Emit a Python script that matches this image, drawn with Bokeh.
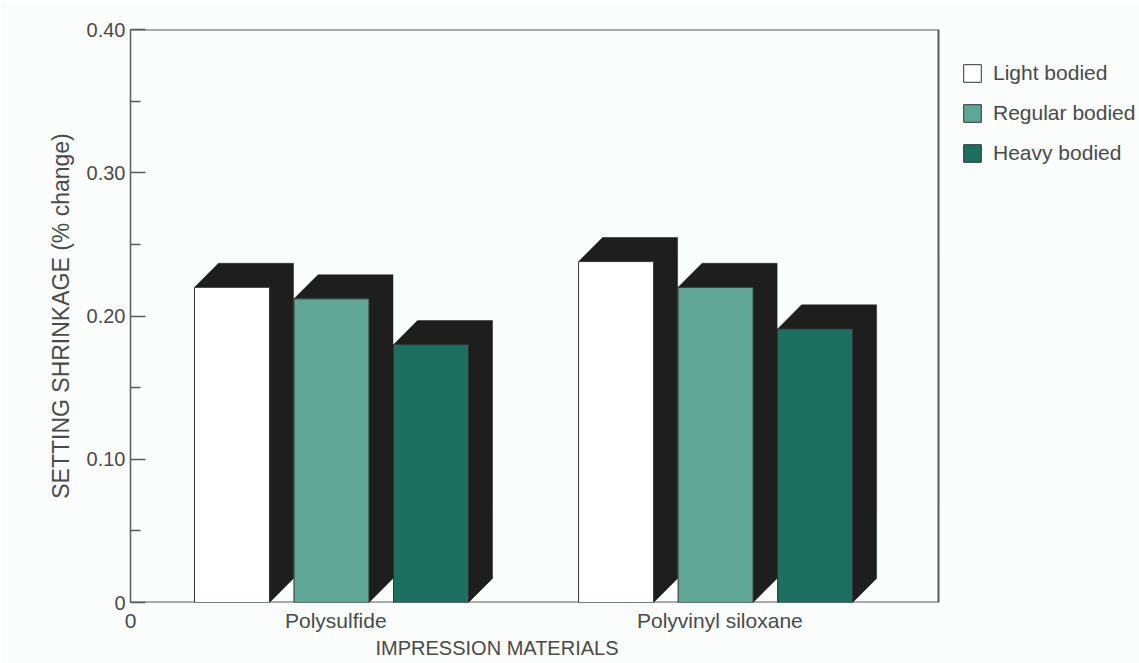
from bokeh.plotting import figure
from bokeh.models import Range1d, FixedTicker, Legend, LegendItem, Title, ColumnDataSource
from bokeh.embed import file_html
from bokeh.resources import INLINE

# ---- data ----
materials = ["Polysulfide", "Polyvinyl siloxane"]
series = ["Light bodied", "Regular bodied", "Heavy bodied"]
light = [0.220, 0.238]
regular = [0.212, 0.220]
heavy = [0.180, 0.191]
colors = ["#ffffff", "#5fa695", "#1c705f"]
y_ticks = [0.0, 0.10, 0.20, 0.30, 0.40]
y_tick_labels = ["0", "0.10", "0.20", "0.30", "0.40"]
y_minor = [0.05, 0.15, 0.25, 0.35]

# ---- layout constants (x in bar-step units) ----
X_BOX = 8.12          # right edge of the drawn plot box
X_END = 10.14         # frame extends right to hold the legend
Y_MAX = 0.4
GROUP_START = [0.643, 4.503]
BAR_W = 0.754
STEP = 1.0
DX = 0.241
DY = 0.0168
LABEL_OFF = 1.42

FONT = "Liberation Sans"
TXT = "#4a4a4a"
BG = "#fbfcfc"
EDGE = "#5a5a5a"

p = figure(width=1139, height=663, x_range=Range1d(0, X_END), y_range=Range1d(0, Y_MAX),
           output_backend="svg", toolbar_location=None,
           min_border_left=130, min_border_right=0, min_border_top=29, min_border_bottom=61,
           background_fill_color=BG, border_fill_color=BG)
p.grid.visible = False
p.outline_line_color = None

values = [light, regular, heavy]

# plot box (top, right, bottom edges)
p.line(x=[0, X_BOX, X_BOX, 0], y=[0, 0, Y_MAX, Y_MAX], line_color=EDGE, line_width=2)

# shadows (3D extrusion) first
sxs, sys_ = [], []
for k, vals in enumerate(values):
    for g, v in enumerate(vals):
        x0 = GROUP_START[g] + k * STEP
        x1 = x0 + BAR_W
        sxs.append([x0, x0 + DX, x1 + DX, x1 + DX, x1, x1])
        sys_.append([v, v + DY, v + DY, DY, 0, v])
p.patches(xs=sxs, ys=sys_, fill_color="#1e1e1e", line_color="#1e1e1e", line_width=0.5)

renderers = []
for k, vals in enumerate(values):
    left = [GROUP_START[g] + k * STEP for g in range(len(vals))]
    right = [l + BAR_W for l in left]
    src = ColumnDataSource(dict(left=left, right=right, top=vals, bottom=[0] * len(vals)))
    r = p.quad(left="left", right="right", top="top", bottom="bottom", source=src,
               fill_color=colors[k], line_color="#333333", line_width=1)
    renderers.append(r)

legend = Legend(items=[LegendItem(label=series[k], renderers=[renderers[k]]) for k in range(3)],
                location=(831, 437), orientation="vertical",
                glyph_width=22, glyph_height=22, label_height=22, label_standoff=10, spacing=16,
                padding=0, margin=0, border_line_color=None, background_fill_alpha=0,
                label_text_font=FONT, label_text_font_size="21px", label_text_color=TXT)
p.add_layout(legend, "center")

# y axis
ya = p.yaxis[0]
ya.ticker = FixedTicker(ticks=y_ticks, minor_ticks=y_minor)
ya.major_label_overrides = {t: s for t, s in zip(y_ticks, y_tick_labels)}
ya.major_tick_in = 15
ya.major_tick_out = 0
ya.minor_tick_in = 10
ya.minor_tick_out = 0
ya.major_tick_line_color = EDGE
ya.minor_tick_line_color = EDGE
ya.major_tick_line_width = 1.5
ya.minor_tick_line_width = 1.5
ya.axis_line_color = EDGE
ya.axis_line_width = 1.5
ya.major_label_standoff = 5
ya.major_label_text_font = FONT
ya.major_label_text_font_size = "20px"
ya.major_label_text_color = TXT
ya.axis_label = "SETTING SHRINKAGE (% change)"
ya.axis_label_text_font = FONT
ya.axis_label_text_font_size = "23px"
ya.axis_label_text_font_style = "normal"
ya.axis_label_text_color = TXT
ya.axis_label_standoff = 10

# x axis
centers = [GROUP_START[g] + LABEL_OFF for g in range(len(materials))]
xa = p.xaxis[0]
xa.ticker = FixedTicker(ticks=[0.0] + centers, minor_ticks=[])
ov = {0.0: "0"}
for c, m in zip(centers, materials):
    ov[c] = m
xa.major_label_overrides = ov
xa.major_tick_line_color = None
xa.major_tick_in = 0
xa.major_tick_out = 0
xa.minor_tick_line_color = None
xa.axis_line_color = None
xa.major_label_standoff = 6
xa.major_label_text_font = FONT
xa.major_label_text_font_size = "21px"
xa.major_label_text_color = TXT

p.add_layout(Title(text="IMPRESSION MATERIALS", align="left", offset=245, standoff=1,
                   text_font=FONT, text_font_size="20px", text_font_style="normal",
                   text_color=TXT), "below")

open("out.html", "w").write(file_html(p, INLINE))
